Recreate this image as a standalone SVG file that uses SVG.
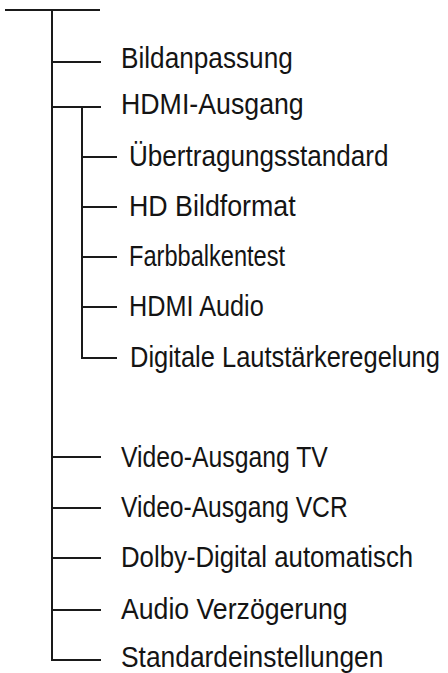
<svg xmlns="http://www.w3.org/2000/svg" width="448" height="673" viewBox="0 0 448 673">
<style>
.c{stroke:#1a1a1a;stroke-width:2;fill:none}
.t{font-family:"Liberation Sans",Arial,sans-serif;font-size:29px;fill:#141414}
</style>
<rect width="448" height="673" fill="#fff"/>
<g id="connectors" class="c">
<path d="M5 10H100"/>
<path d="M52 10V660H101"/>
<path d="M52 62H101"/>
<path d="M52 107H101"/>
<path d="M82 107V358H117"/>
<path d="M82 157H117"/>
<path d="M82 207H117"/>
<path d="M82 257H117"/>
<path d="M82 307H117"/>
<path d="M52 457H101"/>
<path d="M52 508H101"/>
<path d="M52 558H101"/>
<path d="M52 610H101"/>
</g>
<g id="n1"><text class="t" transform="translate(121 68) scale(0.904 1)" textLength="190" lengthAdjust="spacingAndGlyphs">Bildanpassung</text></g>
<g id="n2"><text class="t" transform="translate(121 114) scale(0.923 1)" textLength="198" lengthAdjust="spacingAndGlyphs">HDMI-Ausgang</text></g>
<g id="n3"><text class="t" transform="translate(129 166) scale(0.901 1)" textLength="288" lengthAdjust="spacingAndGlyphs">Übertragungsstandard</text></g>
<g id="n4"><text class="t" transform="translate(129 216) scale(0.926 1)" textLength="180" lengthAdjust="spacingAndGlyphs">HD Bildformat</text></g>
<g id="n5"><text class="t" transform="translate(129 266) scale(0.813 1)" textLength="192" lengthAdjust="spacingAndGlyphs">Farbbalkentest</text></g>
<g id="n6"><text class="t" transform="translate(129 316) scale(0.864 1)" textLength="156" lengthAdjust="spacingAndGlyphs">HDMI Audio</text></g>
<g id="n7"><text class="t" transform="translate(130 367) scale(0.878 1)" textLength="353" lengthAdjust="spacingAndGlyphs">Digitale Lautstärkeregelung</text></g>
<g id="n8"><text class="t" transform="translate(121 467) scale(0.851 1)" textLength="243" lengthAdjust="spacingAndGlyphs">Video-Ausgang TV</text></g>
<g id="n9"><text class="t" transform="translate(121 517) scale(0.849 1)" textLength="267" lengthAdjust="spacingAndGlyphs">Video-Ausgang VCR</text></g>
<g id="n10"><text class="t" transform="translate(121 567) scale(0.888 1)" textLength="329" lengthAdjust="spacingAndGlyphs">Dolby-Digital automatisch</text></g>
<g id="n11"><text class="t" transform="translate(121 619) scale(0.914 1)" textLength="248" lengthAdjust="spacingAndGlyphs">Audio Verzögerung</text></g>
<g id="n12"><text class="t" transform="translate(121 667) scale(0.908 1)" textLength="289" lengthAdjust="spacingAndGlyphs">Standardeinstellungen</text></g>
</svg>
